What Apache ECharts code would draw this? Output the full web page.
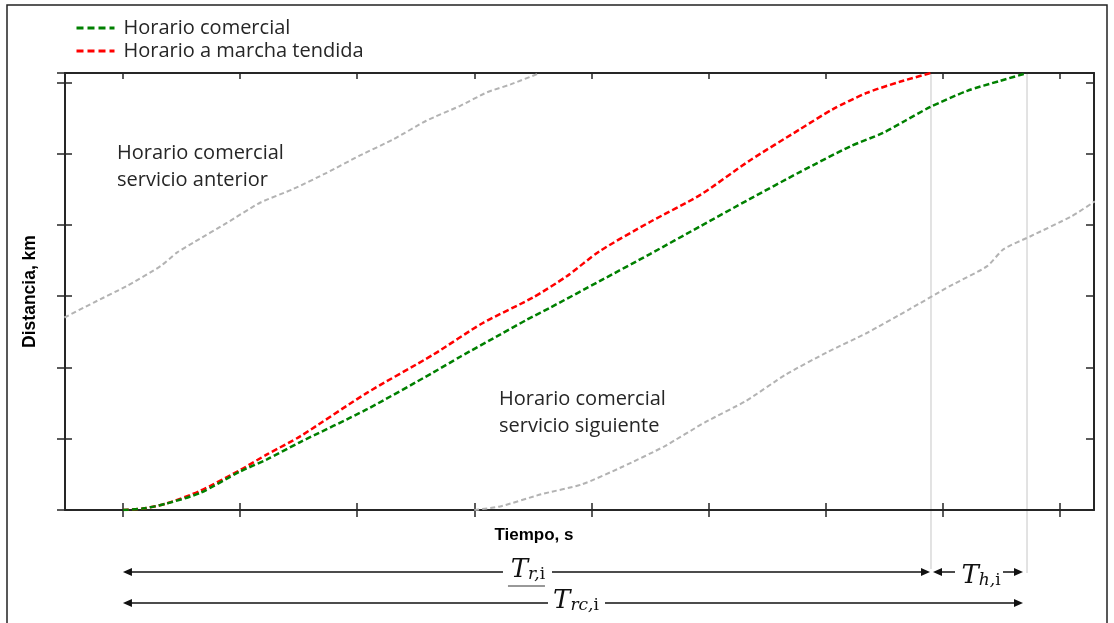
<!DOCTYPE html>
<html><head><meta charset="utf-8">
<script src="https://cdn.jsdelivr.net/npm/echarts@6/dist/echarts.min.js"></script>
<style>html,body{margin:0;padding:0;background:#fff}#c{width:1114px;height:623px}</style>
</head><body><div id="c"></div>
<script>
// ---- data (time in s, distance in km; no tick labels shown in the original) ----
const timeTicks = [0, 100, 200, 300, 400, 500, 600, 700, 800];
const timeRange = [-49.5, 829.2];
const distRange = [0, 6.13];

const greenT = [0,17,37,66,100,123,151,208,265,288,322,345,365,407,450,493,535,578,621,649,668,689,721,749,772];
const greenD = [0,0.02,0.09,0.24,0.54,0.71,0.95,1.41,1.93,2.15,2.46,2.67,2.84,3.21,3.59,3.98,4.36,4.74,5.10,5.29,5.46,5.65,5.88,6.02,6.13];

const redT = [0,17,37,66,101,123,151,208,265,307,350,379,407,450,493,535,578,606,635,664,690];
const redD = [0,0.02,0.09,0.27,0.57,0.78,1.03,1.64,2.18,2.62,2.98,3.28,3.63,4.04,4.42,4.90,5.34,5.62,5.85,6.01,6.13];

const antT = [-50,-25,3,32,46,60,89,117,145,174,202,231,259,288,311,331,356];
const antD = [2.70,2.91,3.14,3.42,3.61,3.75,4.03,4.31,4.50,4.73,4.97,5.20,5.46,5.67,5.86,5.97,6.13];

const sigT = [300,322,357,392,427,462,497,532,566,601,636,671,706,738,752,775,810,830];
const sigD = [0,0.05,0.22,0.36,0.61,0.89,1.23,1.53,1.90,2.21,2.49,2.81,3.14,3.42,3.66,3.84,4.12,4.33];

const legendNames = ['Horario comercial', 'Horario a marcha tendida'];
const labelAnterior = 'Horario comercial\nservicio anterior';
const labelSiguiente = 'Horario comercial\nservicio siguiente';
const xName = 'Tiempo, s';
const yName = 'Distancia, km';

const zip = (a, b) => a.map((v, i) => [v, b[i]]);
const redEnd = redT[redT.length - 1];
const greenEnd = greenT[greenT.length - 1];
const startT = greenT[0];

const axisCol = '#262626';
const txtCol = '#262626';

const chart = echarts.init(document.getElementById('c'), null, {renderer: 'canvas'});

function xAx(position, inside, len, showLine) {
  return {
    type: 'value', min: timeRange[0], max: timeRange[1], position: position,
    axisLine: {show: showLine, onZero: false, lineStyle: {color: axisCol, width: 2}},
    axisTick: {show: true, inside: inside, length: len, customValues: timeTicks, lineStyle: {color: axisCol, width: 1.5}},
    axisLabel: {show: false}, splitLine: {show: false}
  };
}
function yAx(position, inside, len, showLine, extra) {
  return Object.assign({
    type: 'value', min: distRange[0], max: distRange[1], interval: 1, position: position,
    axisLine: {show: showLine, onZero: false, lineStyle: {color: axisCol, width: 2}},
    axisTick: {show: true, inside: inside, length: len, lineStyle: {color: axisCol, width: 1.5}},
    axisLabel: {show: false}, splitLine: {show: false}
  }, extra || {});
}

const dash = [6, 3];
chart.setOption({
  animation: false,
  backgroundColor: '#fff',
  grid: {left: 65, right: 20, top: 73, bottom: 113, containLabel: false, outerBoundsMode: 'none'},
  legend: {
    orient: 'vertical', left: 70, top: 13, itemWidth: 38, itemHeight: 14, itemGap: 3,
    data: legendNames,
    itemStyle: {opacity: 0},
    lineStyle: {width: 3, type: [7, 4]},
    textStyle: {fontFamily: 'Open Sans', fontSize: 20, color: txtCol, padding: [0, 0, 0, 4], lineHeight: 20}
  },
  xAxis: [xAx('bottom', false, 7, true), xAx('bottom', true, 7, false), xAx('top', true, 6, true)],
  yAxis: [
    yAx('left', false, 8, true, {name: yName, nameLocation: 'middle', nameGap: 26, nameRotate: 90,
      nameTextStyle: {fontFamily: 'Liberation Sans', fontWeight: 'bold', fontSize: 17.5, color: '#000'}}),
    yAx('left', true, 7, false),
    yAx('right', true, 8, true)
  ],
  series: [
    {name: 'anterior', type: 'line', data: zip(antT, antD), symbol: 'none', smooth: 0.2, silent: true,
      lineStyle: {color: '#b3b3b3', width: 2, type: [5, 3]}},
    {name: 'siguiente', type: 'line', data: zip(sigT, sigD), symbol: 'none', smooth: 0.2, silent: true,
      lineStyle: {color: '#b3b3b3', width: 2, type: [5, 3]}},
    {name: legendNames[1], type: 'line', data: zip(redT, redD), symbol: 'none', smooth: 0.25, silent: true,
      color: '#ff0000', lineStyle: {color: '#ff0000', width: 2.5, type: dash}},
    {name: legendNames[0], type: 'line', data: zip(greenT, greenD), symbol: 'none', smooth: 0.25, silent: true,
      color: '#008000', lineStyle: {color: '#008000', width: 2.5, type: dash}}
  ]
});

// ---- annotations positioned through the chart's own scales ----
const px = (t, d) => chart.convertToPixel({xAxisIndex: 0, yAxisIndex: 0}, [t, d]);
const x0 = px(startT, 0)[0];
const xr = px(redEnd, 0)[0];
const xg = px(greenEnd, 0)[0];
const yTop = px(0, distRange[1])[1];
const row1 = 572, row2 = 603;
const ink = '#111';

function hline(x1, x2, y) {
  return {type: 'line', silent: true, shape: {x1: x1, y1: y, x2: x2, y2: y}, style: {stroke: ink, lineWidth: 1.5}};
}
function head(xTip, y, dir) {
  return {type: 'polygon', silent: true, shape: {points: [[xTip, y], [xTip - dir * 9, y - 4], [xTip - dir * 9, y + 4]]}, style: {fill: ink}};
}
function tLabel(cx, cy, sub1, sub2) {
  return {type: 'text', silent: true, x: cx, y: cy, style: {
    text: '{T|T}{a|' + sub1 + '}{b|' + sub2 + '}', align: 'center', verticalAlign: 'middle',
    rich: {
      T: {fontFamily: 'DejaVu Serif', fontStyle: 'italic', fontSize: 26, lineHeight: 30, verticalAlign: 'bottom', fill: ink},
      a: {fontFamily: 'DejaVu Serif', fontStyle: 'italic', fontSize: 17, lineHeight: 8, verticalAlign: 'bottom', fill: ink},
      b: {fontFamily: 'DejaVu Serif', fontSize: 17, lineHeight: 8, verticalAlign: 'bottom', fill: ink}
    }
  }};
}
const cR = (x0 + xr) / 2, cH = (xr + xg) / 2, cRC = (x0 + xg) / 2;

const g = [
  {type: 'rect', silent: true, shape: {x: 7, y: 5, width: 1100, height: 660}, style: {fill: null, stroke: '#222', lineWidth: 1.5}},
  {type: 'line', silent: true, shape: {x1: xr, y1: yTop, x2: xr, y2: row1 - 3}, style: {stroke: '#d9d9d9', lineWidth: 1.5}},
  {type: 'line', silent: true, shape: {x1: xg, y1: yTop, x2: xg, y2: row1 + 1}, style: {stroke: '#d9d9d9', lineWidth: 1.5}},
  // row 1: T_r,i
  hline(x0 + 4, cR - 24, row1), hline(cR + 25, xr - 4, row1), head(x0, row1, -1), head(xr - 1, row1, 1),
  tLabel(cR + 1, row1 - 4, 'r,', 'i'),
  {type: 'line', silent: true, shape: {x1: cR - 19, y1: row1 + 14, x2: cR + 18, y2: row1 + 14}, style: {stroke: '#333', lineWidth: 1}},
  // row 1: T_h,i
  head(xr + 2, row1, -1), hline(xr + 6, cH - 24, row1), hline(cH + 24, xg - 8, row1), head(xg - 4, row1, 1),
  tLabel(cH + 2, row1 + 2, 'h,', 'i'),
  // row 2: T_rc,i
  hline(x0 + 4, cRC - 27, row2), hline(cRC + 30, xg - 8, row2), head(x0, row2, -1), head(xg - 4, row2, 1),
  tLabel(cRC + 1, row2 - 4, 'rc,', 'i'),
  // texts
  {type: 'text', silent: true, x: 117, y: 140, style: {text: labelAnterior, fontFamily: 'Open Sans', fontSize: 20, lineHeight: 27, fill: txtCol, align: 'left', verticalAlign: 'top'}},
  {type: 'text', silent: true, x: 499, y: 386, style: {text: labelSiguiente, fontFamily: 'Open Sans', fontSize: 20, lineHeight: 27, fill: txtCol, align: 'left', verticalAlign: 'top'}},
  {type: 'text', silent: true, x: 534, y: 535, style: {text: xName, fontFamily: 'Liberation Sans', fontWeight: 'bold', fontSize: 17, fill: '#000', align: 'center', verticalAlign: 'middle'}}
];
chart.setOption({graphic: g});
</script></body></html>
